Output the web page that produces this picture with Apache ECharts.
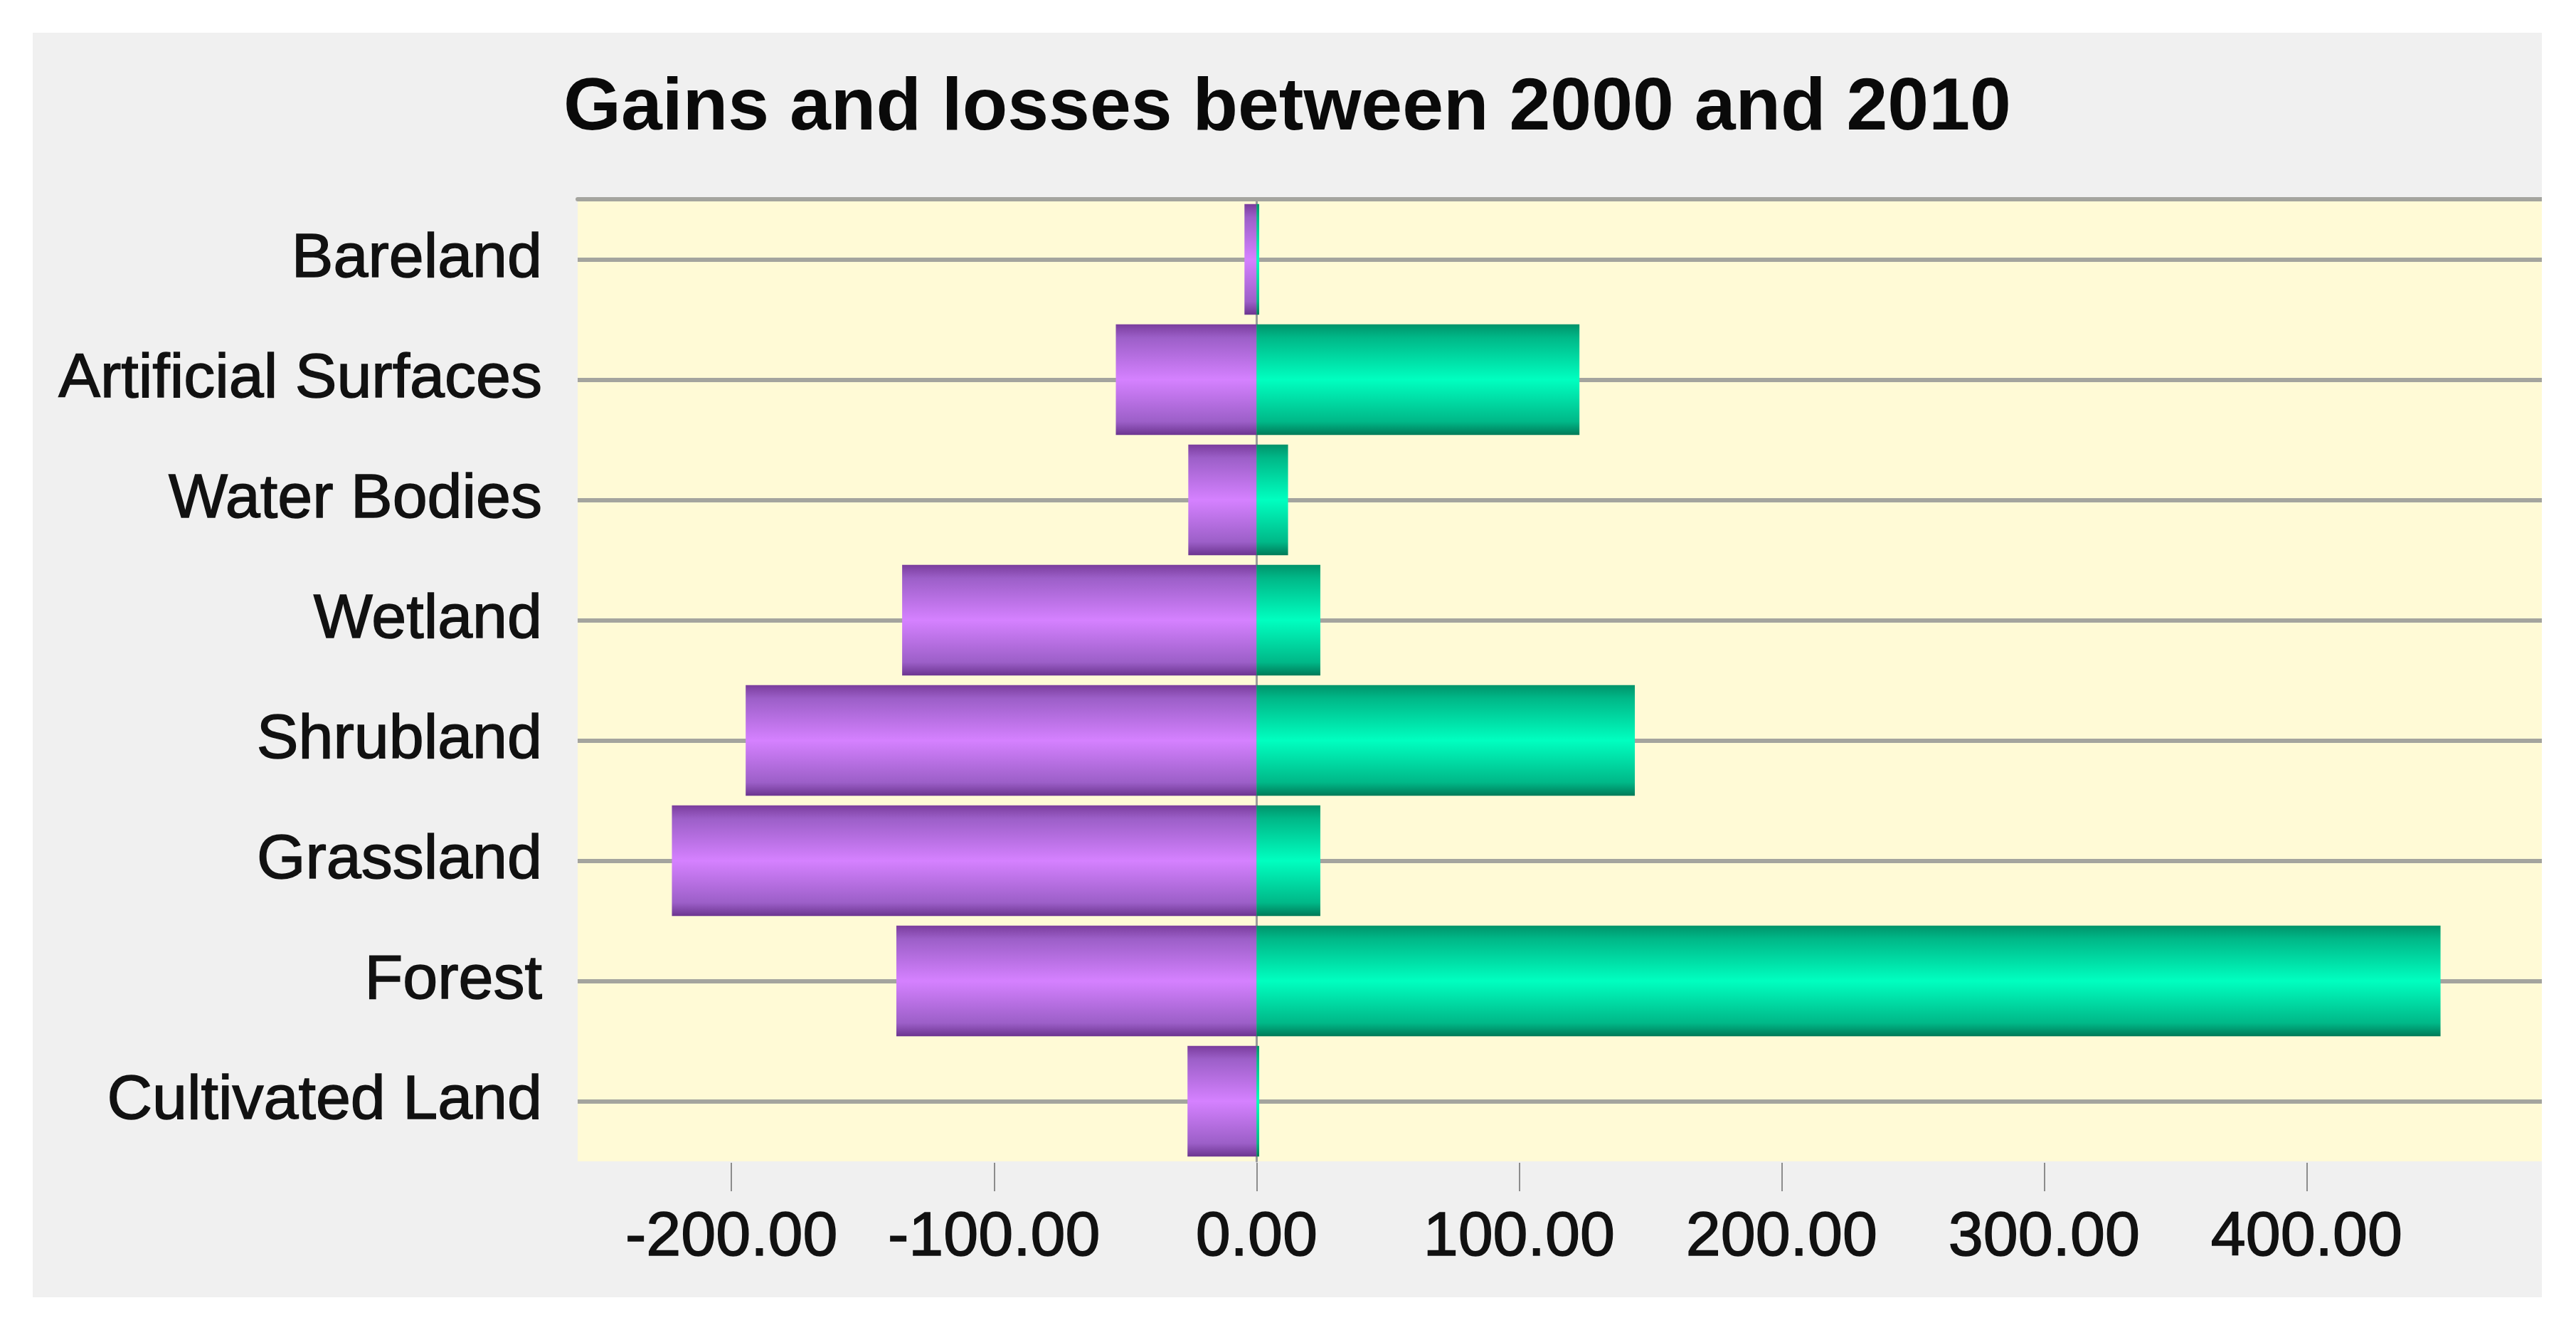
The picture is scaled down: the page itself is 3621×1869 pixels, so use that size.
<!DOCTYPE html>
<html>
<head>
<meta charset="utf-8">
<script src="https://cdn.jsdelivr.net/npm/echarts@6/dist/echarts.min.js"></script>
<style>
  html, body { margin: 0; padding: 0; background: #ffffff; }
  #chart { position: absolute; left: 46px; top: 46px; width: 3527px; height: 1777px; background: #f0f0f0; }
</style>
</head>
<body>
<div id="chart"></div>
<script>
// categories listed top to bottom
var categories = ['Bareland', 'Artificial Surfaces', 'Water Bodies', 'Wetland', 'Shrubland', 'Grassland', 'Forest', 'Cultivated Land'];
var losses = [-4.6, -53.6, -26, -135, -194.6, -222.7, -137.2, -26.3];
var gains = [1, 123, 12, 24.3, 144.1, 24.3, 451, 1];
var tickValues = [-200, -100, 0, 100, 200, 300, 400];

var chartDom = document.getElementById('chart');
var myChart = echarts.init(chartDom);
var option;

var textFont = 'Liberation Sans, Arial, sans-serif';

function barGradient(dark, mid, light, dark2) {
    return new echarts.graphic.LinearGradient(0, 0, 0, 1, [
        { offset: 0, color: dark },
        { offset: 0.12, color: mid },
        { offset: 0.5, color: light },
        { offset: 0.88, color: mid },
        { offset: 1, color: dark2 }
    ]);
}

option = {
    animation: false,
    title: {
        text: 'Gains and losses between 2000 and 2010',
        left: 'center',
        top: 50,
        textStyle: {
            fontFamily: textFont,
            fontWeight: 'bold',
            fontSize: 104,
            color: '#0a0a0a'
        }
    },
    grid: {
        left: 766,
        right: 0,
        top: 234,
        bottom: 191,
        show: true,
        backgroundColor: '#fffad6',
        borderWidth: 0
    },
    xAxis: [{
        type: 'value',
        min: -258.6,
        max: 489.6,
        offset: 2,
        axisLine: { show: false },
        splitLine: { show: false },
        axisTick: {
            show: true,
            length: 40,
            customValues: tickValues,
            lineStyle: { color: '#8c8c8c', width: 2 }
        },
        axisLabel: {
            customValues: tickValues,
            margin: 62,
            fontFamily: textFont,
            fontSize: 88,
            color: '#111111',
            textBorderColor: '#111111',
            textBorderWidth: 1.5,
            formatter: function (v) { return v.toFixed(2); }
        }
    }, {
        // top border of the plot area
        type: 'value',
        position: 'top',
        min: -258.6,
        max: 489.6,
        axisLine: { show: true, lineStyle: { color: '#a4a49e', width: 6 } },
        axisTick: { show: false },
        axisLabel: { show: false },
        splitLine: { show: false }
    }],
    yAxis: {
        type: 'category',
        inverse: true,
        data: categories,
        axisLine: { show: true, lineStyle: { color: '#9a9a9a', width: 3 } },
        axisTick: {
            show: true,
            alignWithLabel: true,
            length: 26,
            lineStyle: { color: '#a4a49e', width: 6 }
        },
        splitLine: { show: false },
        axisLabel: {
            margin: 50,
            fontFamily: textFont,
            fontSize: 88,
            color: '#111111',
            textBorderColor: '#111111',
            textBorderWidth: 1.5
        }
    },
    series: [{
        name: 'Losses',
        type: 'bar',
        stack: 'total',
        barCategoryGap: '8%',
        itemStyle: {
            color: barGradient('#7a3d9d', '#9c5fc8', '#d581ff', '#6c3590')
        },
        // horizontal grid lines through each category centre
        markLine: {
            silent: true,
            symbol: 'none',
            label: { show: false },
            lineStyle: { color: '#a4a49e', width: 6, type: 'solid' },
            z: 0,
            data: categories.map(function (c) { return { yAxis: c }; })
        },
        data: losses
    }, {
        name: 'Gains',
        type: 'bar',
        stack: 'total',
        barCategoryGap: '8%',
        itemStyle: {
            color: barGradient('#00936a', '#00b888', '#00ffc0', '#007a58')
        },
        data: gains
    }]
};

option && myChart.setOption(option);
</script>
</body>
</html>
